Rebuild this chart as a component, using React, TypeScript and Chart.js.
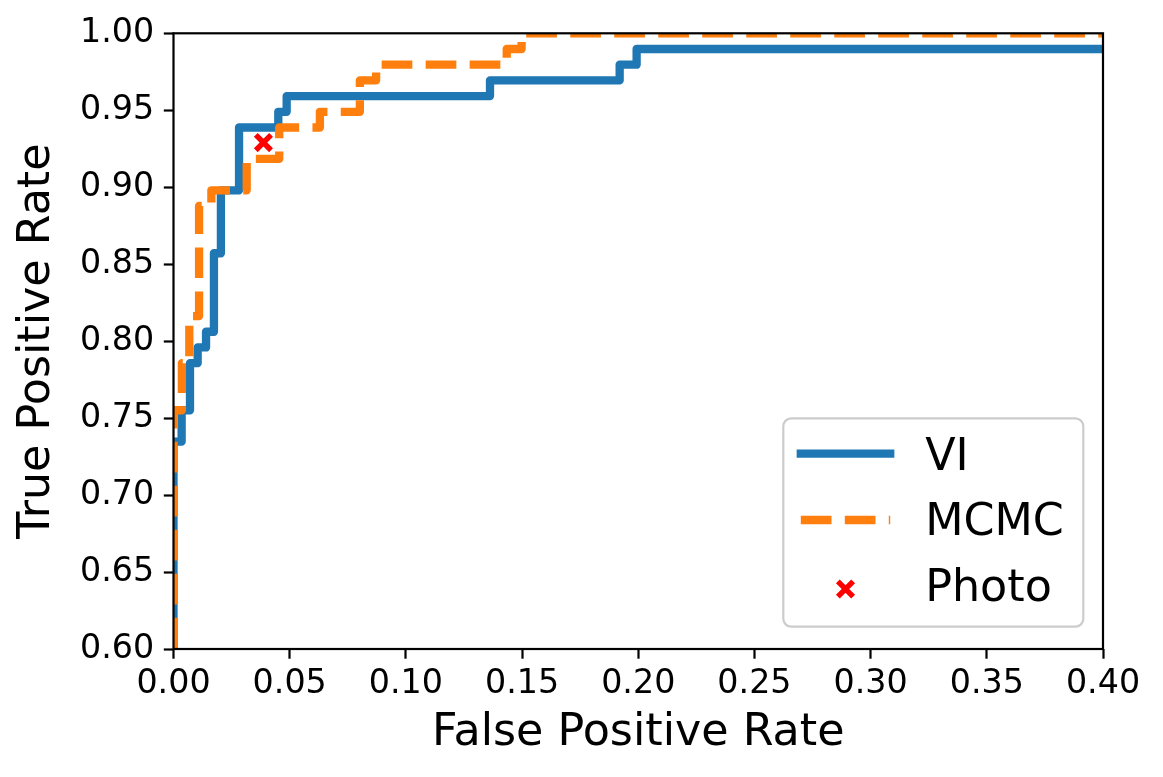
import React, { useEffect, useRef } from 'react';
import { Chart, registerables } from 'chart.js';

Chart.register(...registerables);

// ---- Data ----
const seriesNames = ['VI', 'MCMC', 'Photo'];

const viFpr = [0, 0, 0.0035, 0.0035, 0.0071, 0.0071, 0.0104, 0.0104, 0.014, 0.014, 0.0174, 0.0174, 0.0204, 0.0204, 0.0282, 0.0282, 0.0451, 0.0451, 0.0487, 0.0487, 0.1362, 0.1362, 0.192, 0.192, 0.1993, 0.1993, 1.0];
const viTpr = [0, 0.7347, 0.7347, 0.7551, 0.7551, 0.7857, 0.7857, 0.7959, 0.7959, 0.8061, 0.8061, 0.8571, 0.8571, 0.898, 0.898, 0.9388, 0.9388, 0.949, 0.949, 0.9592, 0.9592, 0.9694, 0.9694, 0.9796, 0.9796, 0.9898, 0.9898];

const mcmcFpr = [0, 0, 0.0036, 0.0036, 0.0068, 0.0068, 0.011, 0.011, 0.0163, 0.0163, 0.0315, 0.0315, 0.0455, 0.0455, 0.063, 0.063, 0.0802, 0.0802, 0.0872, 0.0872, 0.1434, 0.1434, 0.1498, 0.1498, 1.0];
const mcmcTpr = [0, 0.7551, 0.7551, 0.7857, 0.7857, 0.8163, 0.8163, 0.8878, 0.8878, 0.898, 0.898, 0.9184, 0.9184, 0.9388, 0.9388, 0.949, 0.949, 0.9694, 0.9694, 0.9796, 0.9796, 0.9898, 0.9898, 1.0, 1.0];

const photoFpr = [0.0387];
const photoTpr = [0.929];

const xTicks = [0, 0.05, 0.1, 0.15, 0.2, 0.25, 0.3, 0.35, 0.4];
const yTicks = [0.6, 0.65, 0.7, 0.75, 0.8, 0.85, 0.9, 0.95, 1.0];

const xTitle = 'False Positive Rate';
const yTitle = 'True Positive Rate';

// ---- Styles ----
const FONT = "'DejaVu Sans', 'Liberation Sans', sans-serif";
const BLUE = '#1f77b4';
const ORANGE = '#ff7f0e';
const RED = '#ff0000';
const LW = 8.3;
const DASH = [30.7, 13.3];
const MARK_R = 10.8;
const MARK_W = 5.4;

const toPts = (xs: number[], ys: number[]) => xs.map((x, i) => ({ x, y: ys[i] }));

const framePlugin = {
  id: 'frame',
  afterDatasetsDraw(chart: any) {
    const { ctx, chartArea: ca } = chart;
    ctx.save();
    ctx.strokeStyle = '#000';
    ctx.lineWidth = 2.2;
    ctx.lineJoin = 'miter';
    ctx.strokeRect(ca.left, ca.top, ca.right - ca.left, ca.bottom - ca.top);
    ctx.restore();
  },
};

const legendPlugin = {
  id: 'mplLegend',
  afterDraw(chart: any) {
    const { ctx, chartArea: ca } = chart;
    const w = 300;
    const h = 208.4;
    const right = ca.right - 19.7;
    const bottom = ca.bottom - 22.3;
    const left = right - w;
    const top = bottom - h;
    ctx.save();
    ctx.beginPath();
    if (ctx.roundRect) ctx.roundRect(left, top, w, h, 8);
    else ctx.rect(left, top, w, h);
    ctx.fillStyle = 'rgba(255,255,255,0.8)';
    ctx.fill();
    ctx.strokeStyle = '#cccccc';
    ctx.lineWidth = 2.2;
    ctx.stroke();

    const hx0 = left + 17.5;
    const hx1 = hx0 + 89.4;
    const tx = hx1 + 35;

    // VI handle
    ctx.beginPath();
    ctx.strokeStyle = BLUE;
    ctx.lineWidth = LW;
    ctx.lineCap = 'square';
    ctx.setLineDash([]);
    ctx.moveTo(hx0, top + 35.4);
    ctx.lineTo(hx1, top + 35.4);
    ctx.stroke();

    // MCMC handle
    ctx.beginPath();
    ctx.strokeStyle = ORANGE;
    ctx.lineCap = 'butt';
    ctx.setLineDash(DASH);
    ctx.moveTo(hx0, top + 101.7);
    ctx.lineTo(hx1, top + 101.7);
    ctx.stroke();
    ctx.setLineDash([]);

    // Photo marker
    const mx = (hx0 + hx1) / 2;
    const my = top + 170.7;
    const d = MARK_R * Math.SQRT1_2;
    ctx.beginPath();
    ctx.strokeStyle = RED;
    ctx.lineWidth = MARK_W;
    ctx.lineCap = 'butt';
    ctx.moveTo(mx - d, my - d);
    ctx.lineTo(mx + d, my + d);
    ctx.moveTo(mx + d, my - d);
    ctx.lineTo(mx - d, my + d);
    ctx.stroke();

    // Texts
    ctx.fillStyle = '#000';
    ctx.font = `44.4px ${FONT}`;
    ctx.textAlign = 'left';
    ctx.textBaseline = 'alphabetic';
    ctx.fillText(seriesNames[0], tx, top + 51.7);
    ctx.fillText(seriesNames[1], tx, top + 116.7);
    ctx.fillText(seriesNames[2], tx, top + 182.4);
    ctx.restore();
  },
};

export default function App() {
  const ref = useRef<HTMLCanvasElement | null>(null);

  useEffect(() => {
    if (!ref.current) return;
    const chart = new Chart(ref.current, {
      type: 'line',
      data: {
        datasets: [
          {
            type: 'line',
            label: seriesNames[0],
            data: toPts(viFpr, viTpr),
            borderColor: BLUE,
            borderWidth: LW,
            borderCapStyle: 'square',
            borderJoinStyle: 'round',
            pointRadius: 0,
            pointHoverRadius: 0,
            tension: 0,
            fill: false,
            clip: 0,
            order: 3,
          } as any,
          {
            type: 'line',
            label: seriesNames[1],
            data: toPts(mcmcFpr, mcmcTpr),
            borderColor: ORANGE,
            borderWidth: LW,
            borderDash: DASH,
            borderCapStyle: 'butt',
            borderJoinStyle: 'round',
            pointRadius: 0,
            pointHoverRadius: 0,
            tension: 0,
            fill: false,
            clip: 0,
            order: 2,
          } as any,
          {
            type: 'scatter',
            label: seriesNames[2],
            data: toPts(photoFpr, photoTpr),
            pointStyle: 'crossRot',
            pointRadius: MARK_R,
            pointHoverRadius: MARK_R,
            pointBorderWidth: MARK_W,
            pointBorderColor: RED,
            pointBackgroundColor: RED,
            showLine: false,
            order: 4,
          } as any,
        ],
      },
      options: {
        animation: false,
        responsive: false,
        devicePixelRatio: 1,
        events: [],
        layout: { padding: { top: 33.3, right: 60, left: 0, bottom: 0 } },
        plugins: {
          legend: { display: false },
          tooltip: { enabled: false },
        },
        scales: {
          x: {
            type: 'linear',
            min: 0,
            max: 0.4,
            afterBuildTicks: (s: any) => {
              s.ticks = xTicks.map((v) => ({ value: v }));
            },
            afterFit: (s: any) => {
              s.height = 128;
            },
            ticks: {
              callback: (v: any) => Number(v).toFixed(2),
              font: { size: 33.3, family: FONT, lineHeight: 1.2 },
              color: '#000',
              padding: 5.8,
              autoSkip: false,
              maxRotation: 0,
              minRotation: 0,
            },
            grid: {
              display: true,
              drawOnChartArea: false,
              drawTicks: true,
              tickLength: 9.7,
              tickWidth: 2.2,
              tickColor: '#000',
            },
            border: { display: false },
            title: {
              display: true,
              text: xTitle,
              color: '#000',
              font: { size: 44.4, family: FONT, lineHeight: 1 },
              padding: { top: 0, bottom: 21.2 },
            },
          },
          y: {
            type: 'linear',
            min: 0.6,
            max: 1.0,
            afterBuildTicks: (s: any) => {
              s.ticks = yTicks.map((v) => ({ value: v }));
            },
            afterFit: (s: any) => {
              s.width = 173.5;
            },
            ticks: {
              callback: (v: any) => Number(v).toFixed(2),
              font: { size: 33.3, family: FONT, lineHeight: 1.2 },
              color: '#000',
              padding: 9.7,
              autoSkip: false,
            },
            grid: {
              display: true,
              drawOnChartArea: false,
              drawTicks: true,
              tickLength: 9.7,
              tickWidth: 2.2,
              tickColor: '#000',
            },
            border: { display: false },
            title: {
              display: true,
              text: yTitle,
              color: '#000',
              font: { size: 44.4, family: FONT, lineHeight: 1 },
              padding: { top: 15.7, bottom: 0 },
            },
          },
        },
      } as any,
      plugins: [framePlugin, legendPlugin],
    });
    return () => chart.destroy();
  }, []);

  return (
    <div style={{ position: 'absolute', left: 0, top: 0, width: 1163, height: 777, background: '#fff' }}>
      <canvas ref={ref} width={1163} height={777} style={{ display: 'block' }} />
    </div>
  );
}
